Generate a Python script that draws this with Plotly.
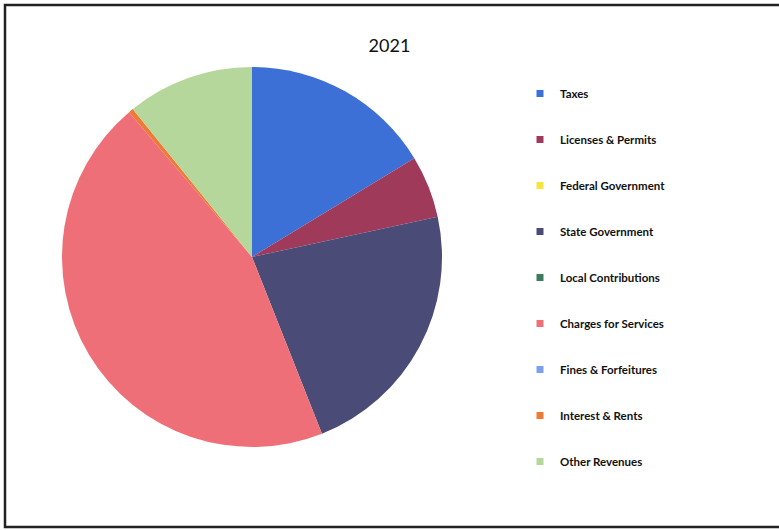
import plotly.graph_objects as go

categories = ["Taxes", "Licenses & Permits", "Federal Government", "State Government",
              "Local Contributions", "Charges for Services", "Fines & Forfeitures",
              "Interest & Rents", "Other Revenues"]
values_2021 = [16.3, 5.3, 0, 22.4, 0, 44.8, 0, 0.4, 10.8]
colors = ["#3d70d6", "#a03a5a", "#f3e640", "#4b4b78", "#3f7a60",
          "#ef6f78", "#7c9ff0", "#ee7a36", "#b6d79c"]
title_text = "2021"

W, H = 779, 530
cx, cy, r = 252, 257, 190

fig = go.Figure()
fig.add_trace(go.Pie(
    labels=categories, values=values_2021, sort=False, direction="clockwise",
    rotation=0, marker=dict(colors=colors, line=dict(width=0)),
    textinfo="none", showlegend=False, hoverinfo="label+percent",
    domain=dict(x=[(cx - r) / W, (cx + r) / W],
                y=[(H - cy - r) / H, (H - cy + r) / H]),
))
for i, (cat, col) in enumerate(zip(categories, colors)):
    fig.add_trace(go.Scatter(
        x=[None], y=[None], mode="markers", name=cat,
        marker=dict(symbol="square", size=7, color=col),
        legendgroup=f"g{i}", showlegend=True,
    ))

fig.update_layout(
    width=W, height=H,
    margin=dict(l=0, r=0, t=0, b=0),
    paper_bgcolor="white", plot_bgcolor="white",
    xaxis=dict(visible=False), yaxis=dict(visible=False),
    title=dict(text=title_text, x=0.5, xanchor="center", y=1 - 46 / H, yanchor="middle",
               font=dict(family="Lato", size=18, color="#111111")),
    legend=dict(x=520 / W, xanchor="left", y=1 - 79 / H, yanchor="top",
                tracegroupgap=27, font=dict(family="Lato", size=11.5, color="#111111", weight="bold"),
                bgcolor="rgba(0,0,0,0)"),
    shapes=[dict(type="rect", xref="paper", yref="paper",
                 x0=5 / W, x1=1.02, y0=1 - 527 / H, y1=1 - 5 / H,
                 line=dict(color="#222222", width=2.5))],
)
fig.write_html("out.html")
